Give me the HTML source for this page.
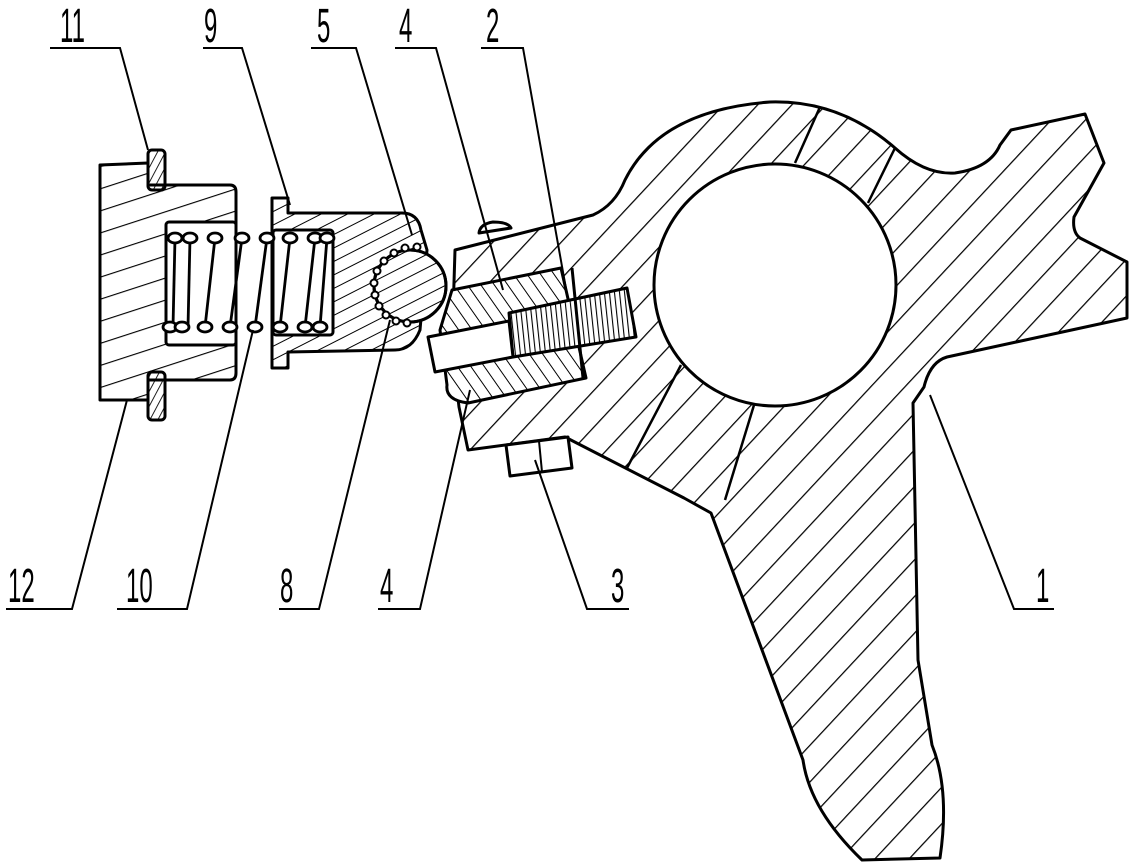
<!DOCTYPE html>
<html><head><meta charset="utf-8"><style>html,body{margin:0;padding:0;background:#fff}svg{display:block}</style></head>
<body>
<svg width="1129" height="865" viewBox="0 0 1129 865" xmlns="http://www.w3.org/2000/svg">
<defs>
<pattern id="hb" width="40" height="25" patternUnits="userSpaceOnUse" patternTransform="rotate(-47)"><line x1="0" y1="0" x2="40" y2="0" stroke="#000" stroke-width="2.4"/></pattern>
<pattern id="h12" width="40" height="21" patternUnits="userSpaceOnUse" patternTransform="rotate(-18)"><line x1="0" y1="0" x2="40" y2="0" stroke="#000" stroke-width="2.2"/></pattern>
<pattern id="h9" width="40" height="12" patternUnits="userSpaceOnUse" patternTransform="rotate(-27)"><line x1="0" y1="0" x2="40" y2="0" stroke="#000" stroke-width="2"/></pattern>
<pattern id="h4" width="40" height="11" patternUnits="userSpaceOnUse" patternTransform="rotate(55)"><line x1="0" y1="0" x2="40" y2="0" stroke="#000" stroke-width="2"/></pattern>
<pattern id="h11" width="20" height="7" patternUnits="userSpaceOnUse" patternTransform="rotate(-62)"><line x1="0" y1="0" x2="20" y2="0" stroke="#000" stroke-width="1.8"/></pattern>
<pattern id="hs" width="5" height="40" patternUnits="userSpaceOnUse" patternTransform="rotate(-6)"><line x1="0" y1="0" x2="0" y2="40" stroke="#000" stroke-width="2.2"/></pattern>
</defs>
<g fill="none" stroke="#000" stroke-width="3" stroke-linejoin="round">
<path fill="url(#hb)" d="M455,250 L593,215 Q615,205 625,180 Q660,110 770,102 Q840,100 895,148 Q925,175 955,173 Q990,168 1000,145 L1011,130 L1085,114 L1104,163 L1074,217 Q1072,232 1080,238 L1127,262 L1127,318 L947,357 Q930,362 924,387 L913,403 L918,660 L932,745 Q950,790 940,858 L862,860 Q810,810 803,760 L711,513 L684,498 L565,437 L468,450 L459,407 L452,347 Z"/>
<circle cx="775" cy="285" r="121" fill="#fff"/>
<g stroke-width="2.5">
<line x1="820" y1="107" x2="795" y2="163"/>
<line x1="895" y1="148" x2="868" y2="203"/>
<line x1="681" y1="365" x2="627" y2="468"/>
<line x1="754" y1="405" x2="725" y2="500"/>
</g>
<path fill="#fff" d="M479,233 Q480,224 493,222 Q508,222 511,228 Z"/>
<!-- piece 4 -->
<path fill="#fff" stroke="none" d="M452,290 L561,268 L586,378 L468,403 Q445,400 447,385 L440,330 Z"/>
<path fill="url(#h4)" d="M452,290 L561,268 L586,378 L468,403 Q445,400 447,385 L440,330 Z"/>
<path fill="#fff" stroke="none" d="M509,313 L627,288 L636,337 L513,357 Z"/>
<path fill="url(#hs)" d="M509,313 L627,288 L636,337 L513,357 Z"/>
<path fill="#fff" d="M428,337 L509,321 L513,357 L435,372 Z"/>
<line x1="572" y1="268" x2="583" y2="378"/>
<path fill="#fff" d="M506,445 L568,437 L572,468 L510,476 Z"/>
<line x1="539" y1="441" x2="542" y2="472" stroke-width="2"/>
<!-- part 12 -->
<path fill="url(#h12)" d="M100,165 L148,163 L148,185 L230,185 Q236,185 236,192 L236,373 Q236,380 230,380 L148,380 L148,400 L100,400 Z"/>
<rect x="166" y="222" width="70" height="123" rx="3" fill="#fff"/>
<rect x="148" y="150" width="17" height="40" rx="4" fill="url(#h11)"/>
<rect x="148" y="372" width="17" height="48" rx="4" fill="url(#h11)"/>
<!-- part 9 -->
<path fill="url(#h9)" d="M272,198 L288,198 L288,213 L402,213 Q418,213 421,230 L427,250 L420,330 Q412,350 395,350 L288,352 L288,368 L272,368 Z"/>
<rect x="273" y="230" width="60" height="105" rx="3" fill="#fff"/>
<circle cx="410" cy="286" r="36" fill="#fff"/>
<circle cx="410" cy="286" r="36" fill="url(#h9)"/>
<g fill="#fff" stroke-width="2">
<circle cx="417" cy="247" r="3.5"/><circle cx="405" cy="248" r="3.5"/><circle cx="394" cy="253" r="3.5"/><circle cx="384" cy="261" r="3.5"/><circle cx="377" cy="271" r="3.5"/><circle cx="374" cy="283" r="3.5"/><circle cx="375" cy="295" r="3.5"/><circle cx="379" cy="306" r="3.5"/><circle cx="386" cy="315" r="3.5"/><circle cx="396" cy="321" r="3.5"/><circle cx="407" cy="323" r="3.5"/>
</g>
<g stroke-width="2.8" fill="#fff">
<line x1="175" y1="238" x2="173" y2="327"/><line x1="190" y1="238" x2="188" y2="327"/><line x1="215" y1="238" x2="205" y2="327"/><line x1="242" y1="238" x2="230" y2="327"/><line x1="267" y1="238" x2="255" y2="327"/><line x1="290" y1="238" x2="280" y2="327"/><line x1="315" y1="238" x2="305" y2="327"/><line x1="327" y1="238" x2="320" y2="327"/>
<ellipse cx="175" cy="238" rx="7" ry="5"/><ellipse cx="190" cy="238" rx="7" ry="5"/><ellipse cx="215" cy="238" rx="7" ry="5"/><ellipse cx="242" cy="238" rx="7" ry="5"/><ellipse cx="267" cy="238" rx="7" ry="5"/><ellipse cx="290" cy="238" rx="7" ry="5"/><ellipse cx="315" cy="238" rx="7" ry="5"/><ellipse cx="327" cy="238" rx="7" ry="5"/>
<ellipse cx="170" cy="327" rx="7" ry="5"/><ellipse cx="182" cy="327" rx="7" ry="5"/><ellipse cx="205" cy="327" rx="7" ry="5"/><ellipse cx="230" cy="327" rx="7" ry="5"/><ellipse cx="255" cy="327" rx="7" ry="5"/><ellipse cx="280" cy="327" rx="7" ry="5"/><ellipse cx="305" cy="327" rx="7" ry="5"/><ellipse cx="320" cy="327" rx="7" ry="5"/>
</g>
</g>
<g stroke="#000" stroke-width="2" fill="none">
<polyline points="50,48 120,48 148,150"/>
<polyline points="203,48 242,48 290,205"/>
<polyline points="311,48 356,48 412,235"/>
<polyline points="395,48 436,48 503,290"/>
<polyline points="481,48 523,48 568,300"/>
<polyline points="6,609 72,609 127,400"/>
<polyline points="117,609 187,609 253,330"/>
<polyline points="279,609 319,609 390,320"/>
<polyline points="378,609 420,609 470,390"/>
<polyline points="629,609 587,609 535,460"/>
<polyline points="1054,609 1014,609 930,395"/>
</g>
<g font-family="Liberation Sans, sans-serif" font-size="48" fill="#000">
<text transform="translate(60,42) scale(0.5,1)">11</text>
<text transform="translate(204,42) scale(0.5,1)">9</text>
<text transform="translate(317,42) scale(0.5,1)">5</text>
<text transform="translate(399,42) scale(0.5,1)">4</text>
<text transform="translate(486,42) scale(0.5,1)">2</text>
<text transform="translate(8,602) scale(0.5,1)">12</text>
<text transform="translate(126,602) scale(0.5,1)">10</text>
<text transform="translate(280,602) scale(0.5,1)">8</text>
<text transform="translate(380,602) scale(0.5,1)">4</text>
<text transform="translate(611,602) scale(0.5,1)">3</text>
<text transform="translate(1036,602) scale(0.5,1)">1</text>
</g>
</svg>
</body></html>
